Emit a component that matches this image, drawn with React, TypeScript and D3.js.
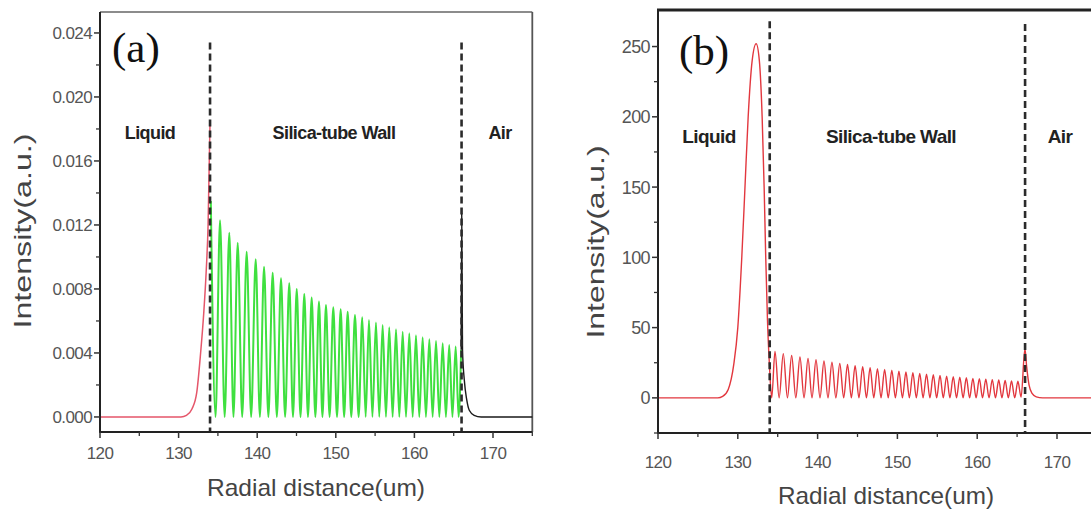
import React from 'react';
import * as d3 from 'd3';

// x axis (both panels)
const X_TICKS = [120, 130, 140, 150, 160, 170];
const X_MINOR = [125, 135, 145, 155, 165, 175];
const BOUNDARIES = [134, 166];

// panel (a) ticks
const Y_TICKS_A = [0, 0.004, 0.008, 0.012, 0.016, 0.02, 0.024];
const Y_MINOR_A = [0.002, 0.006, 0.01, 0.014, 0.018, 0.022];

// panel (b) ticks
const Y_TICKS_B = [0, 50, 100, 150, 200, 250];
const Y_MINOR_B = [-25, 25, 75, 125, 175, 225];

// panel (a) curves
const LIQUID_A_X = [120, 130.3, 131, 131.7, 132.3, 132.8, 133.2, 133.5, 133.75, 134.0];
const LIQUID_A_Y = [0, 0, 0.0001, 0.0005, 0.0015, 0.004, 0.0065, 0.009, 0.012, 0.0185];

const WALL_A_TROUGH_X = [134.7, 135.86, 136.98, 138.09, 139.23, 140.34, 141.42, 142.5, 143.55, 144.55, 145.51, 146.46, 147.4, 148.3, 149.21, 150.15, 151.06, 151.97, 152.9, 153.8, 154.66, 155.53, 156.38, 157.23, 158.08, 158.93, 159.78, 160.62, 161.47, 162.32, 163.17, 164.01, 164.84];
const WALL_A_PEAK_X = [135.27, 136.45, 137.52, 138.66, 139.81, 140.87, 141.97, 143.03, 144.08, 145.03, 145.99, 146.93, 147.86, 148.75, 149.68, 150.62, 151.51, 152.44, 153.37, 154.22, 155.11, 155.96, 156.8, 157.66, 158.51, 159.35, 160.2, 161.05, 161.9, 162.75, 163.6, 164.43, 165.25];
const WALL_A_PEAK_Y = [0.0123, 0.01152, 0.01089, 0.01033, 0.00986, 0.00939, 0.00902, 0.00867, 0.00836, 0.008, 0.00769, 0.00746, 0.00721, 0.007, 0.00685, 0.00673, 0.00658, 0.00638, 0.00623, 0.00606, 0.0059, 0.00575, 0.0056, 0.00548, 0.00533, 0.00523, 0.0051, 0.00498, 0.00486, 0.00475, 0.0046, 0.0045, 0.0044];
const WALL_A_START = [134.1, 0.0135];
const WALL_A_END_X = [165.62, 165.95];
const WALL_A_END_Y = [0, 0.0042];

const AIR_A_X = [165.95, 166.02, 166.12, 166.35, 166.65, 167.0, 167.6, 168.5, 175];
const AIR_A_Y = [0.0042, 0.0127, 0.0042, 0.0023, 0.0011, 0.0004, 0.0001, 0, 0];

// panel (b) curves
const LIQUID_B_X = [120, 127.5, 128.1, 128.8, 129.5, 130.0, 130.5, 130.9, 131.3, 131.8, 132.3, 132.7, 133.05, 133.3, 133.5, 133.72, 133.95];
const LIQUID_B_Y = [0, 0, 1, 6, 24, 50, 100, 150, 200, 240, 252, 240, 200, 150, 100, 55, 25];

const WALL_B_TROUGH_X = [134.25, 135.18, 136.22, 137.27, 138.3, 139.3, 140.3, 141.3, 142.29, 143.27, 144.23, 145.18, 146.12, 147.04, 147.95, 148.85, 149.75, 150.63, 151.5, 152.37, 153.22, 154.07, 154.92, 155.75, 156.58, 157.41, 158.23, 159.05, 159.86, 160.67, 161.48, 162.29, 163.1, 163.9, 164.7];
const WALL_B_PEAK_X = [134.66, 135.7, 136.75, 137.79, 138.8, 139.8, 140.8, 141.8, 142.78, 143.75, 144.7, 145.65, 146.58, 147.5, 148.4, 149.3, 150.19, 151.07, 151.94, 152.8, 153.65, 154.5, 155.34, 156.17, 157.0, 157.82, 158.64, 159.46, 160.27, 161.08, 161.89, 162.7, 163.5, 164.3, 165.1];
const WALL_B_PEAK_Y = [33, 31.5, 30.2, 29.1, 28.1, 27.1, 26.2, 25.3, 24.5, 23.7, 22.9, 22.2, 21.5, 20.8, 20.2, 19.6, 19.0, 18.4, 17.9, 17.4, 16.9, 16.4, 15.9, 15.5, 15.1, 14.7, 14.3, 13.9, 13.6, 13.3, 13.0, 12.7, 12.4, 12.1, 11.8];

const AIR_B_X = [165.5, 165.98, 166.2, 166.5, 166.9, 167.4, 168.2, 178];
const AIR_B_Y = [0.5, 35, 22, 9, 3, 0.7, 0, 0];

const REGIONS = ['Liquid', 'Silica-tube Wall', 'Air'];

type Pt = [number, number];

const zip = (xs: number[], ys: number[]): Pt[] => xs.map((x, i) => [x, ys[i]]);

// troughs sit at zero between the peaks
const wallPoints = (start: Pt | null, troughs: number[], peaksX: number[], peaksY: number[]): Pt[] => {
  const pts: Pt[] = start ? [start] : [];
  peaksX.forEach((px, i) => {
    pts.push([troughs[i], 0]);
    pts.push([px, peaksY[i]]);
  });
  return pts;
};

const SANS = 'Liberation Sans, Arial, sans-serif';

function Panel({ cfg }: { cfg: any }) {
  const x = d3.scaleLinear().domain(cfg.xDomain).range(cfg.xRange);
  const y = d3.scaleLinear().domain(cfg.yDomain).range(cfg.yRange);
  const line = d3.line<Pt>().x(d => x(d[0])).y(d => y(d[1])).curve(d3.curveMonotoneX);
  const x0 = cfg.xRange[0];
  const [yb, yt] = cfg.yRange;
  const frameRight = x(cfg.frameRight);

  return (
    <g>
      {/* frame */}
      {cfg.thickTop ? (
        <line x1={x0 - 1} x2={1091} y1={yt} y2={yt} stroke="#222" strokeWidth={3} />
      ) : (
        <g>
          <line x1={x0} x2={frameRight} y1={yt} y2={yt} stroke="#666" strokeWidth={1.6} />
          <line x1={frameRight} x2={frameRight} y1={yt} y2={yb} stroke="#555" strokeWidth={1.8} />
        </g>
      )}

      {/* curves */}
      {cfg.series.map((s: any, i: number) => (
        <path key={i} d={line(s.points) || ''} fill="none" stroke={s.color} strokeWidth={s.width} strokeLinejoin="round" />
      ))}

      {/* boundaries */}
      {BOUNDARIES.map((b, i) => (
        <line key={b} x1={x(b)} x2={x(b)} y1={y(cfg.dashTop[i])} y2={yb} stroke="#2b2b2b" strokeWidth={2.6} strokeDasharray="7 4" />
      ))}

      {/* axes */}
      <line x1={x0} x2={Math.min(frameRight, 1091)} y1={yb} y2={yb} stroke="#222" strokeWidth={2} />
      <line x1={x0} x2={x0} y1={yb + 1} y2={yt} stroke="#222" strokeWidth={2} />

      {X_TICKS.map(t => (
        <g key={t}>
          <line x1={x(t)} x2={x(t)} y1={yb} y2={yb + 6} stroke="#333" strokeWidth={1.5} />
          <text x={x(t)} y={cfg.xLabelY} textAnchor="middle" fontFamily={SANS} fontSize={cfg.xLabelSize} fill="#555" letterSpacing={-0.6}>{t}</text>
        </g>
      ))}
      {X_MINOR.map(t => (
        <line key={t} x1={x(t)} x2={x(t)} y1={yb} y2={yb + 4} stroke="#333" strokeWidth={1.3} />
      ))}

      {cfg.yTicks.map((t: number) => (
        <g key={t}>
          <line x1={x0 - 6} x2={x0} y1={y(t)} y2={y(t)} stroke="#333" strokeWidth={1.5} />
          <text x={x0 - 8} y={y(t)} dy="0.36em" textAnchor="end" fontFamily={SANS} fontSize={cfg.yLabelSize} fill="#555" letterSpacing={-0.6}>{cfg.fmt(t)}</text>
        </g>
      ))}
      {cfg.yMinor.map((t: number) => (
        <line key={t} x1={x0 - 4} x2={x0} y1={y(t)} y2={y(t)} stroke="#333" strokeWidth={1.3} />
      ))}

      {/* titles */}
      <text x={cfg.xTitle[0]} y={cfg.xTitle[1]} textAnchor="middle" fontFamily={SANS} fontSize={24} fill="#444" textLength={cfg.xTitle[2]} lengthAdjust="spacingAndGlyphs">Radial distance(um)</text>
      <text transform={`translate(${cfg.yTitle[0]},${cfg.yTitle[1]}) rotate(-90)`} textAnchor="middle" fontFamily={SANS} fontSize={24} fill="#444" textLength={cfg.yTitle[2]} lengthAdjust="spacingAndGlyphs">Intensity(a.u.)</text>

      {/* region labels */}
      {REGIONS.map((r, i) => (
        <text key={r} x={cfg.regionX[i]} y={cfg.regionY} textAnchor="middle" fontFamily={SANS} fontWeight="bold" fontSize={cfg.regionSize} fill="#222" letterSpacing={-0.6}>{r}</text>
      ))}

      <text x={cfg.tag[0]} y={cfg.tag[1]} fontFamily="Liberation Serif, Times New Roman, serif" fontSize={43} fill="#111">{cfg.tagText}</text>
    </g>
  );
}

export default function App() {
  const panelA = {
    xDomain: [120, 175],
    xRange: [100, 532.3],
    yDomain: [-0.00094, 0.02531],
    yRange: [432, 12],
    frameRight: 175,
    yTicks: Y_TICKS_A,
    yMinor: Y_MINOR_A,
    fmt: (v: number) => v.toFixed(3),
    yLabelSize: 17,
    xLabelSize: 17,
    dashTop: [0.0234, 0.0234],
    xLabelY: 459,
    xTitle: [316, 496, 218],
    yTitle: [31, 231, 195],
    regionX: [150, 334, 500],
    regionY: 139,
    regionSize: 18,
    tag: [112, 62],
    tagText: '(a)',
    series: [
      { points: zip(LIQUID_A_X, LIQUID_A_Y), color: '#e5566a', width: 1.5 },
      {
        points: [
          ...wallPoints(WALL_A_START as Pt, WALL_A_TROUGH_X, WALL_A_PEAK_X, WALL_A_PEAK_Y),
          ...zip(WALL_A_END_X, WALL_A_END_Y)
        ],
        color: '#3fe03f',
        width: 2
      },
      { points: zip(AIR_A_X, AIR_A_Y), color: '#1a1a1a', width: 1.4 }
    ]
  };

  const panelB = {
    xDomain: [120, 175],
    xRange: [658, 1096.9],
    yDomain: [-25, 276],
    yRange: [433, 10],
    frameRight: 180,
    thickTop: true,
    yTicks: Y_TICKS_B,
    yMinor: Y_MINOR_B,
    fmt: (v: number) => String(v),
    yLabelSize: 18,
    xLabelSize: 17,
    dashTop: [268, 266],
    xLabelY: 468,
    xTitle: [886, 504, 216],
    yTitle: [604, 242, 193],
    regionX: [709, 891, 1060],
    regionY: 143,
    regionSize: 19,
    tag: [679, 65],
    tagText: '(b)',
    series: [
      {
        points: [
          ...zip(LIQUID_B_X, LIQUID_B_Y),
          ...wallPoints(null, WALL_B_TROUGH_X, WALL_B_PEAK_X, WALL_B_PEAK_Y),
          ...zip(AIR_B_X, AIR_B_Y)
        ],
        color: '#e2373e',
        width: 1.4
      }
    ]
  };

  return (
    <svg width={1091} height={513} style={{ position: 'absolute', left: 0, top: 0, background: '#fff' }}>
      <rect width={1091} height={513} fill="#fff" />
      <Panel cfg={panelA} />
      <Panel cfg={panelB} />
    </svg>
  );
}
